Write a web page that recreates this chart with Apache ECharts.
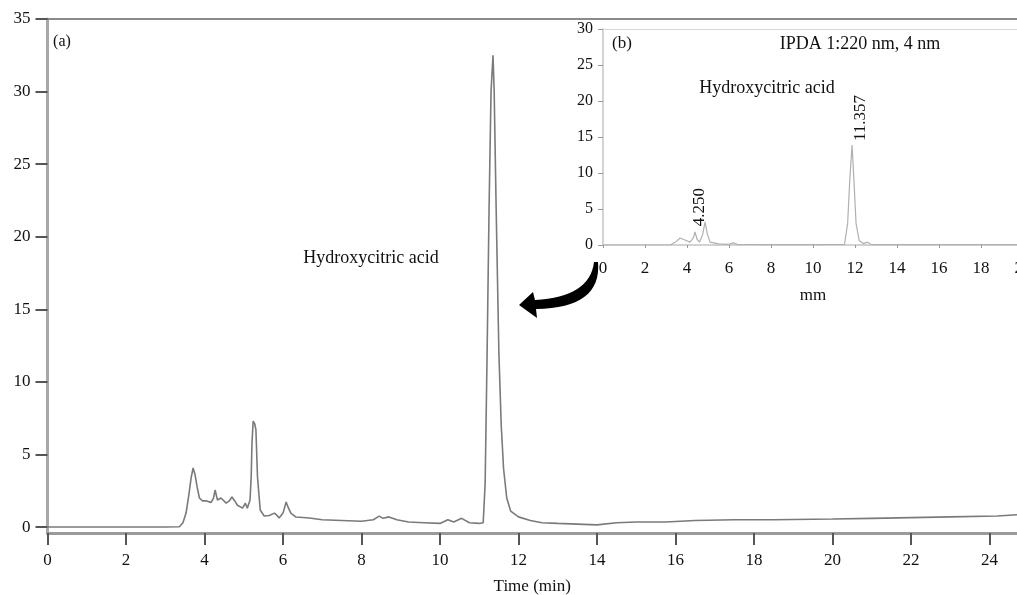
<!DOCTYPE html>
<html>
<head>
<meta charset="utf-8">
<script src="https://cdn.jsdelivr.net/npm/echarts@6/dist/echarts.min.js"></script>
<style>
html,body{margin:0;padding:0;background:#fff;}
#chart{width:1017px;height:595px;}
</style>
</head>
<body>
<div id="chart"></div>
<script>
// Main chromatogram (a)
var mainTime = [0, 1, 2, 3, 3.36, 3.45, 3.53, 3.6, 3.66, 3.71, 3.76, 3.81, 3.87, 3.95, 4.05, 4.17, 4.23, 4.27, 4.33, 4.42,
  4.55, 4.63, 4.7, 4.77, 4.84, 4.97, 5.04, 5.09, 5.16, 5.19, 5.21, 5.24, 5.28, 5.31, 5.35, 5.42, 5.52, 5.65, 5.78, 5.85,
  5.9, 6.0, 6.08, 6.14, 6.2, 6.33, 6.67, 7.0, 7.5, 8.0, 8.3, 8.45, 8.55, 8.7, 8.9, 9.2, 9.6, 10.0, 10.2, 10.35,
  10.55, 10.75, 11.0, 11.1, 11.15, 11.2, 11.25, 11.3, 11.35, 11.38, 11.43, 11.5, 11.56, 11.62, 11.7, 11.8, 12.0, 12.3, 12.6, 13.0,
  13.5, 14.0, 14.5, 15.0, 15.75, 16.5, 17.5, 18.5, 20.0, 21.0, 22.0, 23.0, 24.2, 24.7];
var mainSignal = [0, 0, 0, 0, 0.02, 0.3, 0.96, 2.2, 3.4, 4.07, 3.6, 2.8, 2.0, 1.8, 1.8, 1.7, 2.0, 2.55, 1.86, 2.0,
  1.65, 1.8, 2.07, 1.8, 1.5, 1.3, 1.65, 1.3, 1.86, 3.5, 5.8, 7.3, 7.1, 6.7, 3.45, 1.17, 0.76, 0.8, 0.96, 0.8,
  0.62, 0.96, 1.72, 1.3, 0.96, 0.69, 0.62, 0.5, 0.45, 0.4, 0.5, 0.75, 0.6, 0.7, 0.5, 0.35, 0.3, 0.25, 0.5, 0.35,
  0.6, 0.3, 0.25, 0.3, 3, 12, 22, 30, 32.5, 30, 22, 12, 7, 4, 2, 1.1, 0.7, 0.45, 0.3, 0.25,
  0.2, 0.15, 0.3, 0.35, 0.35, 0.45, 0.5, 0.5, 0.55, 0.6, 0.65, 0.7, 0.76, 0.85];

// Inset chromatogram (b)
var insetTime = [0, 3.2, 3.5, 3.67, 3.9, 4.14, 4.3, 4.38, 4.48, 4.6, 4.75, 4.86, 4.97, 5.1, 5.5, 6.0, 6.2, 6.4, 8, 10,
  11.5, 11.65, 11.75, 11.86, 11.95, 12.05, 12.2, 12.4, 12.6, 12.75, 13, 16, 20];
var insetSignal = [0, 0, 0.5, 0.97, 0.7, 0.4, 1.0, 1.8, 0.8, 0.4, 1.5, 3.2, 1.5, 0.4, 0.15, 0.1, 0.3, 0.1, 0.05, 0.05,
  0.1, 3, 9, 13.9, 9, 3, 0.6, 0.2, 0.4, 0.1, 0.05, 0.05, 0.05];

// Tick labels
var mainXTicks = [0, 2, 4, 6, 8, 10, 12, 14, 16, 18, 20, 22, 24];
var mainYTicks = [0, 5, 10, 15, 20, 25, 30, 35];
var insetXTicks = [0, 2, 4, 6, 8, 10, 12, 14, 16, 18, 20];
var insetYTicks = [0, 5, 10, 15, 20, 25, 30];

var FONT = '"Liberation Serif", "DejaVu Serif", serif';

var mainData = mainTime.map(function (t, i) { return [t, mainSignal[i]]; });
var insetData = insetTime.map(function (t, i) { return [t, insetSignal[i]]; });

// curved arrow outline (annotation), built from two quadratic curves
function quad(p0, c, p1, n) {
  var pts = [];
  for (var i = 0; i <= n; i++) {
    var t = i / n, u = 1 - t;
    pts.push([u * u * p0[0] + 2 * u * t * c[0] + t * t * p1[0], u * u * p0[1] + 2 * u * t * c[1] + t * t * p1[1]]);
  }
  return pts;
}
var arrowPts = quad([594, 262], [590, 297], [535, 300], 16)
  .concat([[533, 292], [519, 305], [537, 318]])
  .concat(quad([536, 309], [602, 308], [598, 262], 16));

var chart = echarts.init(document.getElementById('chart'), null, { renderer: 'canvas' });

var option = {
  backgroundColor: '#ffffff',
  animation: false,
  grid: [
    { left: 47.5, top: 19, right: 0, bottom: 62, containLabel: false, outerBoundsMode: 'none' },
    { left: 603, top: 29, width: 420, height: 216, containLabel: false, outerBoundsMode: 'none' }
  ],
  xAxis: [
    {
      type: 'value', gridIndex: 0, min: 0, max: 24.7,
      name: 'Time (min)', nameLocation: 'middle', nameGap: 45,
      nameTextStyle: { fontFamily: FONT, fontSize: 17, color: '#111' },
      axisLine: { onZero: false, lineStyle: { color: '#9a9a9a', width: 3 } },
      axisTick: { show: true, length: 12, customValues: mainXTicks, lineStyle: { color: '#555', width: 2 } },
      axisLabel: { customValues: mainXTicks, margin: 19, fontFamily: FONT, fontSize: 17, color: '#111' },
      splitLine: { show: false }
    },
    {
      type: 'value', gridIndex: 0, position: 'top', min: 0, max: 24.7,
      axisLine: { onZero: false, lineStyle: { color: '#8a8a8a', width: 2 } },
      axisTick: { show: false }, axisLabel: { show: false }, splitLine: { show: false }
    },
    {
      type: 'value', gridIndex: 1, min: 0, max: 20, interval: 2,
      name: 'mm', nameLocation: 'middle', nameGap: 42,
      nameTextStyle: { fontFamily: FONT, fontSize: 17, color: '#111' },
      axisLine: { onZero: false, lineStyle: { color: '#c4c4c4', width: 1.5 } },
      axisTick: { show: true, length: 3, customValues: insetXTicks, lineStyle: { color: '#999', width: 1 } },
      axisLabel: { customValues: insetXTicks, margin: 15, fontFamily: FONT, fontSize: 17, color: '#111' },
      splitLine: { show: false }
    },
    {
      type: 'value', gridIndex: 1, position: 'top', min: 0, max: 20,
      axisLine: { onZero: false, lineStyle: { color: '#d6d6d6', width: 1 } },
      axisTick: { show: false }, axisLabel: { show: false }, splitLine: { show: false }
    }
  ],
  yAxis: [
    {
      type: 'value', gridIndex: 0, min: -0.41, max: 35,
      axisLine: { show: true, onZero: false, lineStyle: { color: '#a8a8a8', width: 3 } },
      axisTick: { show: true, length: 12, customValues: mainYTicks, lineStyle: { color: '#555', width: 2 } },
      axisLabel: { customValues: mainYTicks, margin: 17, fontFamily: FONT, fontSize: 17, color: '#111' },
      splitLine: { show: false }
    },
    {
      type: 'value', gridIndex: 1, min: 0, max: 30, interval: 5,
      axisLine: { show: true, onZero: false, lineStyle: { color: '#c4c4c4', width: 1.5 } },
      axisTick: { show: true, length: 5, customValues: insetYTicks, lineStyle: { color: '#999', width: 1 } },
      axisLabel: { customValues: insetYTicks, margin: 10, fontFamily: FONT, fontSize: 16, color: '#111' },
      splitLine: { show: false }
    }
  ],
  series: [
    {
      type: 'line', name: 'Chromatogram (a)', xAxisIndex: 0, yAxisIndex: 0,
      data: mainData, showSymbol: false, smooth: false,
      lineStyle: { color: '#7a7a7a', width: 1.6 }
    },
    {
      type: 'line', name: 'Chromatogram (b)', xAxisIndex: 2, yAxisIndex: 1,
      data: insetData, showSymbol: false, smooth: false,
      lineStyle: { color: '#b0b0b0', width: 1.2 }
    }
  ],
  graphic: [
    { type: 'text', x: 62, y: 42, style: { text: '(a)', font: '16px ' + FONT, fill: '#111', align: 'center', verticalAlign: 'middle' } },
    { type: 'text', x: 371, y: 258, style: { text: 'Hydroxycitric acid', font: '18px ' + FONT, fill: '#111', align: 'center', verticalAlign: 'middle' } },
    { type: 'text', x: 622, y: 44, style: { text: '(b)', font: '17px ' + FONT, fill: '#111', align: 'center', verticalAlign: 'middle' } },
    { type: 'text', x: 860, y: 44, style: { text: 'IPDA 1:220 nm, 4 nm', font: '18px ' + FONT, fill: '#111', align: 'center', verticalAlign: 'middle' } },
    { type: 'text', x: 767, y: 88, style: { text: 'Hydroxycitric acid', font: '18px ' + FONT, fill: '#111', align: 'center', verticalAlign: 'middle' } },
    { type: 'text', x: 700, y: 207, rotation: Math.PI / 2, style: { text: '4.250', font: '17px ' + FONT, fill: '#111', align: 'center', verticalAlign: 'middle' } },
    { type: 'text', x: 861, y: 118, rotation: Math.PI / 2, style: { text: '11.357', font: '17px ' + FONT, fill: '#111', align: 'center', verticalAlign: 'middle' } },
    { type: 'polygon', shape: { points: arrowPts }, style: { fill: '#000' } }
  ]
};
chart.setOption(option);
</script>
</body>
</html>
